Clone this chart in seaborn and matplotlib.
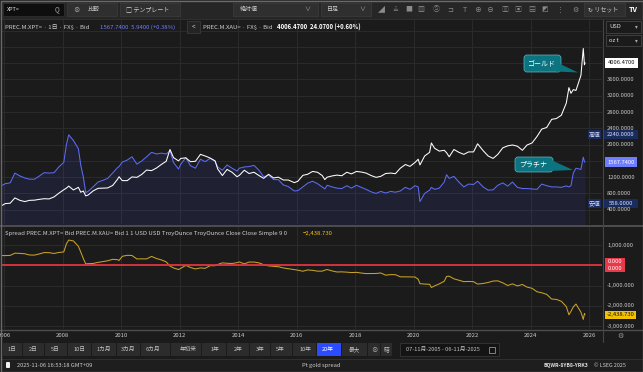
import numpy as np
import pandas as pd
import matplotlib
matplotlib.use('Agg')
import matplotlib.pyplot as plt
from matplotlib.patches import Rectangle, FancyBboxPatch, Polygon
import seaborn as sns

# ---------------- data ----------------
dates = [2005.85,
         2006.04, 2006.21, 2006.37, 2006.54, 2006.71, 2006.87,
         2007.04, 2007.21, 2007.37, 2007.54, 2007.71, 2007.87,
         2008.04, 2008.13, 2008.21, 2008.37, 2008.54, 2008.62, 2008.71, 2008.79, 2008.87,
         2009.04, 2009.21, 2009.37, 2009.54, 2009.71, 2009.87, 2009.93,
         2010.04, 2010.21, 2010.37, 2010.54, 2010.71, 2010.87,
         2011.04, 2011.21, 2011.37, 2011.54, 2011.67, 2011.79, 2011.96,
         2012.04, 2012.21, 2012.37, 2012.54, 2012.71, 2012.87,
         2013.04, 2013.21, 2013.30, 2013.46, 2013.62, 2013.79, 2013.96,
         2014.04, 2014.21, 2014.37, 2014.54, 2014.71, 2014.87,
         2015.04, 2015.21, 2015.37, 2015.54, 2015.71, 2015.92,
         2016.04, 2016.21, 2016.37, 2016.54, 2016.71, 2016.87, 2016.96,
         2017.04, 2017.21, 2017.37, 2017.54, 2017.71, 2017.87,
         2018.04, 2018.21, 2018.37, 2018.54, 2018.71, 2018.87,
         2019.04, 2019.21, 2019.37, 2019.54, 2019.71, 2019.87,
         2020.04, 2020.15, 2020.21, 2020.37, 2020.54, 2020.60, 2020.71, 2020.87,
         2021.04, 2021.12, 2021.21, 2021.37, 2021.54, 2021.71, 2021.87,
         2022.04, 2022.18, 2022.37, 2022.54, 2022.71, 2022.87,
         2023.04, 2023.21, 2023.37, 2023.54, 2023.71, 2023.87,
         2024.04, 2024.21, 2024.37, 2024.54, 2024.71, 2024.87,
         2025.04, 2025.21, 2025.30, 2025.37, 2025.45, 2025.54, 2025.71, 2025.79, 2025.83, 2025.85]

gold = [470,
        550, 560, 690, 630, 600, 630,
        635, 655, 670, 665, 715, 805,
        890, 930, 980, 885, 950, 830, 860, 740, 760,
        860, 925, 930, 935, 995, 1140, 1210,
        1115, 1115, 1205, 1195, 1270, 1375,
        1360, 1425, 1510, 1590, 1880, 1680, 1600,
        1660, 1675, 1580, 1590, 1760, 1720,
        1670, 1600, 1400, 1240, 1390, 1320, 1210,
        1245, 1370, 1290, 1320, 1240, 1170,
        1270, 1180, 1200, 1130, 1130, 1065,
        1100, 1245, 1270, 1340, 1320, 1240, 1140,
        1200, 1230, 1250, 1235, 1320, 1280,
        1340, 1325, 1300, 1240, 1195, 1220,
        1290, 1300, 1285, 1420, 1510, 1465,
        1560, 1640, 1500, 1720, 1810, 2040, 1910, 1840,
        1860, 1800, 1700, 1880, 1810, 1760, 1820,
        1820, 2020, 1850, 1720, 1660, 1760,
        1920, 1970, 1990, 1960, 1860, 1990,
        2040, 2200, 2380, 2420, 2620, 2640,
        2720, 3020, 3400, 3260, 3350, 3330, 3700, 4360, 3960, 4006.47]

plat = [965,
        1040, 1060, 1300, 1230, 1180, 1150,
        1150, 1230, 1310, 1300, 1310, 1450,
        1560, 2000, 2240, 2100, 1900, 1500, 1200, 820, 850,
        960, 1080, 1120, 1170, 1300, 1430, 1460,
        1570, 1620, 1700, 1520, 1600, 1700,
        1810, 1770, 1790, 1770, 1850, 1560, 1400,
        1520, 1680, 1480, 1420, 1640, 1580,
        1660, 1590, 1450, 1370, 1500, 1420, 1350,
        1420, 1450, 1460, 1490, 1370, 1210,
        1250, 1140, 1140, 1010, 970, 860,
        870, 960, 1050, 1100, 1040, 960, 910,
        1000, 960, 930, 920, 990, 930,
        1000, 950, 900, 840, 800, 850,
        810, 850, 830, 860, 950, 900,
        990, 960, 600, 800, 880, 950, 900, 930,
        1080, 1260, 1170, 1220, 1080, 960, 1030,
        1020, 1100, 960, 880, 890, 1000,
        1060, 980, 1080, 950, 920, 920,
        910, 900, 1030, 990, 960, 960,
        950, 985, 960, 990, 1300, 1420, 1390, 1690, 1580, 1567.74]

years = list(range(2006, 2027, 2))
year_labels = [str(y) for y in years]
upper_grid = list(range(400, 5000, 400))
upper_ticks = [400, 800, 1200, 2000, 2400, 2800, 3200, 3600]
lower_grid = [1000, 0, -1000, -2000, -3000]
lower_ticks = [1000, -1000, -2000, -3000]
lower_tick_labels = ['1,000.000', '-1,000.000', '-2,000.000', '-3,000.000']
last_gold, last_plat = 4006.47, 1567.74
high_plat, low_plat = 2240.0, 558.0
range_buttons = ['1日', '2日', '5日', '10日', '1カ月', '3カ月', '6カ月', '年初来',
                 '1年', '2年', '3年', '5年', '10年', '20年', '最大']
selected_button = '20年'

df = pd.DataFrame({'date': dates, 'gold': gold, 'plat': plat})
df['spread'] = df['plat'] - df['gold']
last_spread = df['spread'].iloc[-1]

# ---------------- style ----------------
sns.set_theme(style='dark')
plt.rcParams['font.family'] = ['Noto Sans CJK JP', 'DejaVu Sans']
plt.rcParams['axes.unicode_minus'] = False

W, H = 643, 372
BG = '#1b1b1b'
GRID = '#2a2a2a'
TXT = '#c9c9c9'
BLUE = '#5b6cf5'
GOLDC = '#c9a227'
FS = 4.3

fig = plt.figure(figsize=(W / 100, H / 100), dpi=100)
fig.patch.set_facecolor(BG)


def px_axes(x0, y0, x1, y1, z):
    return fig.add_axes([x0 / W, 1 - y1 / H, (x1 - x0) / W, (y1 - y0) / H], zorder=z)


XL = (2005.93, 2026.43)

# ---------------- upper price panel ----------------
axU = px_axes(2, 20, 602, 224, 2)
axU.set_facecolor(BG)
axU.fill_between(df['date'], df['plat'], 0, color='#4a5aff', alpha=0.10, lw=0)
sns.lineplot(data=df, x='date', y='plat', ax=axU, color=BLUE, lw=0.75, estimator=None)
sns.lineplot(data=df, x='date', y='gold', ax=axU, color='white', lw=0.75, estimator=None)
axU.set_xlim(*XL)
axU.set_ylim(49, 5061)
axU.set_xticks(years)
axU.set_yticks(upper_grid)
axU.grid(True, color=GRID, lw=0.8)
axU.tick_params(length=0, labelbottom=False, labelleft=False)
axU.set_xlabel('')
axU.set_ylabel('')
for s in axU.spines.values():
    s.set_visible(False)

# ---------------- lower spread panel ----------------
axL = px_axes(2, 227, 602, 329, 2)
axL.set_facecolor(BG)
sns.lineplot(data=df, x='date', y='spread', ax=axL, color=GOLDC, lw=0.75, estimator=None)
axL.axhline(0, color='#e0343f', lw=1.3)
axL.set_xlim(*XL)
axL.set_ylim(-3144, 1906)
axL.set_xticks(years)
axL.set_xticklabels(year_labels)
axL.set_yticks(lower_grid)
axL.grid(True, color=GRID, lw=0.8)
axL.tick_params(axis='x', length=0, pad=3.2, labelsize=FS, labelcolor=TXT)
axL.tick_params(axis='y', length=0, labelleft=False)
axL.set_xlabel('')
axL.set_ylabel('')
for s in axL.spines.values():
    s.set_visible(False)

# ---------------- overlay in pixel coordinates ----------------
ui = px_axes(0, 0, W, H, 5)
ui.set_xlim(0, W)
ui.set_ylim(H, 0)
ui.axis('off')


def ypix(ax, v):
    disp = ax.transData.transform((XL[0], v))
    return ui.transData.inverted().transform(disp)[1]


def rect(x0, y0, x1, y1, fc, ec='none', lw=0.6, z=5):
    ui.add_patch(Rectangle((x0, y0), x1 - x0, y1 - y0, fc=fc, ec=ec, lw=lw, zorder=z))


def txt(x, y, s, color=TXT, size=FS, ha='left', weight='normal', z=7):
    ui.text(x, y, s, color=color, fontsize=size, ha=ha, va='center', fontweight=weight, zorder=z)


# top toolbar
rect(0, 0, W, 19, '#262626')
ui.plot([0, W], [19, 19], color='#333333', lw=0.6, zorder=6)
rect(3, 3, 64, 16, '#0e0e0e', '#2e2e2e')
txt(7, 9.5, 'XPT=', '#e0e0e0', 4.0)
txt(55, 9.5, 'Q', '#aaaaaa', 4.6)
rect(67, 3, 117, 16, '#2f2f2f', '#3a3a3a')
txt(73, 9.5, '⊗', '#aaaaaa', 4.6)
txt(88, 9.5, '比較', '#cfcfcf', 4.3)
rect(120, 3, 180, 16, '#2f2f2f', '#3a3a3a')
txt(126, 9.5, '□ テンプレート', '#cfcfcf', 4.3)
rect(233, 3, 318, 16, '#2f2f2f', '#3a3a3a')
txt(240, 9.5, '絶対値', '#cfcfcf', 4.3)
txt(304, 9.5, '∨', '#aaaaaa', 4.3)
rect(321, 3, 371, 16, '#2f2f2f', '#3a3a3a')
txt(327, 9.5, '日足', '#cfcfcf', 4.3)
txt(359, 9.5, '∨', '#aaaaaa', 4.3)
icons = [(381, '◢'), (395, '≟'), (409, '■'), (421, '▨'), (436, 'Ⓢ'), (450, '⊐'),
         (465, 'T'), (478, '⊕'), (490, '⊖'), (505, '▥'), (518, '▣'), (532, '▤'),
         (545, '◩'), (560, '⋮'), (575, '⚙')]
for xi, g in icons:
    txt(xi, 9.5, g, '#8a8a8a', 5.0, ha='center')
rect(584, 3, 625, 16, '#2f2f2f', '#3a3a3a')
txt(588, 9.5, '↻ リセット', '#cfcfcf', 4.3)
txt(629, 9.5, 'TV', '#ffffff', 5.2, weight='bold')

# legend row
txt(5, 27, 'PREC.M.XPT= · 1日 · FX$ · Bid', '#d0d0d0', FS)
txt(100, 27, '1567.7400  5.9400 (+0.38%)', '#6f7dff', FS)
rect(187, 21, 200, 33, '#242424', '#3a3a3a')
txt(193.5, 27, '<', '#cfcfcf', 4.5, ha='center')
txt(203, 27, 'PREC.M.XAU= · FX$ · Bid', '#d0d0d0', FS)
txt(277, 27, '4006.4700  24.0700 (+0.60%)', '#ffffff', FS, weight='bold')

# dividers
ui.plot([0, W], [225.5, 225.5], color='#4d4d4d', lw=1.4, zorder=6)
ui.plot([0, W], [329.5, 329.5], color='#4d4d4d', lw=1.0, zorder=6)
ui.plot([602.5, 602.5], [20, 342], color='#454545', lw=0.8, zorder=6)

# right price axis
rect(606, 21, 641, 33, BG, '#444444')
txt(609, 27, 'USD', '#e0e0e0', 4.2)
txt(636, 27, '▾', '#aaaaaa', 4.0, ha='center')
rect(606, 35, 641, 46, BG, '#444444')
txt(609, 40.5, 'oz t', '#e0e0e0', 4.2)
txt(636, 40.5, '▾', '#aaaaaa', 4.0, ha='center')
for v in upper_ticks:
    txt(607, ypix(axU, v), f'{v:.4f}', TXT, 4.2)


def value_box(x0, x1, y, s, fc, tc, h=10, weight='normal'):
    rect(x0, y - h / 2, x1, y + h / 2, fc, z=6.5)
    txt((x0 + x1) / 2, y, s, tc, 4.2, ha='center', weight=weight, z=7.5)


value_box(605, 638, ypix(axU, last_gold), f'{last_gold:.4f}', '#ffffff', '#111111')
value_box(605, 637, ypix(axU, last_plat), f'{last_plat:.4f}', '#6f7dff', '#ffffff')
value_box(588, 601, ypix(axU, high_plat), '高値', '#1a2c5e', '#d8defc', h=9)
value_box(604, 638, ypix(axU, high_plat), f'{high_plat:.4f}', '#1a2c5e', '#d8defc', h=9)
value_box(588, 601, ypix(axU, low_plat), '安値', '#1a2c5e', '#d8defc', h=9)
value_box(604, 638, ypix(axU, low_plat), f'{low_plat:.4f}', '#1a2c5e', '#d8defc', h=9)

# lower axis labels
txt(5, 234, 'Spread PREC.M.XPT= Bid PREC.M.XAU= Bid 1 1 USD USD TroyOunce TroyOunce '
    'Close Close Simple 9 0', '#d0d0d0', FS)
txt(303, 234, f'{last_spread:,.3f}'.replace('-', '−'), '#f2c200', FS)
for v, lab in zip(lower_ticks, lower_tick_labels):
    txt(607, ypix(axL, v), lab, TXT, 4.2)
y0 = ypix(axL, 0)
value_box(605, 625, y0 - 4, '0.000', '#e8394a', '#ffffff', h=7)
value_box(605, 625, y0 + 3.5, '0.000', '#e8394a', '#ffffff', h=7)
value_box(605, 636, ypix(axL, last_spread), f'{last_spread:,.3f}', '#f2c200', '#111111', h=8)
txt(620, 336, '⚙', '#9a9a9a', 5.0, ha='center')


# callouts
def callout(x0, y0, w, h, tail, s):
    ui.add_patch(FancyBboxPatch((x0, y0), w, h, boxstyle='round,pad=0,rounding_size=3',
                                fc='#0b7480', ec='#5fb8c0', lw=0.5, zorder=8))
    ui.add_patch(Polygon(tail, closed=True, fc='#0b7480', ec='none', zorder=8.5))
    ui.text(x0 + w / 2 - 1, y0 + h / 2, s, color='white', fontsize=5.0, ha='center',
            va='center', zorder=9)


callout(524, 55, 37, 17, [(556, 62), (578, 72.5), (556, 71.5)], 'ゴールド')
callout(515, 157, 38, 15, [(549, 159), (573, 170), (549, 171)], 'プラチナ')

# range buttons row
centers = [12, 33, 55, 79, 104, 128, 153, 188, 215, 238, 260, 280, 305, 328, 354]
edges = [2] + [(centers[i] + centers[i + 1]) / 2 for i in range(len(centers) - 1)] + [367]
for i, lab in enumerate(range_buttons):
    sel = lab == selected_button
    rect(edges[i] + 0.5, 343, edges[i + 1] - 0.5, 356, '#2b4cff' if sel else '#2c2c2c')
    txt(centers[i], 349.5, lab, '#ffffff' if sel else '#c4c4c4', 4.1, ha='center')
rect(368, 343, 380, 356, '#2c2c2c')
txt(374, 349.5, '⊗', '#aaaaaa', 4.6, ha='center')
rect(381, 343, 392, 356, '#2c2c2c')
txt(386.5, 349.5, '暗', '#c4c4c4', 4.1, ha='center')
rect(400, 343, 499, 356, '#141414', '#363636')
txt(406, 349.5, '07-11月-2005 - 06-11月-2025', '#c4c4c4', 4.1)
rect(489, 346.5, 495, 352.5, 'none', '#aaaaaa', lw=0.5, z=7)

# status bar
ui.plot([0, W], [358.5, 358.5], color='#333333', lw=0.6, zorder=6)
rect(0, 359, W, H, '#1e1e1e', z=4)
ui.add_patch(FancyBboxPatch((6, 362), 4, 6, boxstyle='round,pad=0,rounding_size=1',
                            fc='#f0f0f0', ec='none', zorder=7))
txt(17, 365.5, '2025-11-06 16:53:18 GMT+09', '#cfcfcf', 4.1)
txt(321, 365.5, 'Pt gold spread', '#cfcfcf', 4.1, ha='center')
txt(543, 365.5, 'BQWR-8YB8-YRK3', '#e0e0e0', 3.7, weight='bold')
txt(594, 365.5, '© LSEG 2025', '#cfcfcf', 3.9)

# outer frame
ui.add_patch(Rectangle((0.5, 0.5), W - 1, H - 1, fc='none', ec='#6a6a6a', lw=1.0, zorder=10))

fig.savefig('out.png', dpi=100)
